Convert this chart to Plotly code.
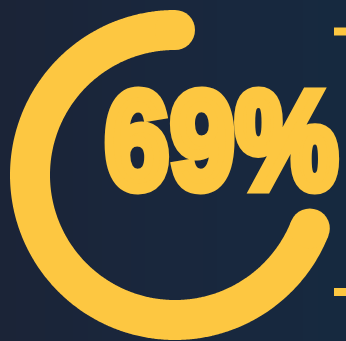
import numpy as np
import plotly.graph_objects as go

# Gauge value (percent of a full turn)
value = [69]
label = ["69%"]

W, H = 346, 341
cx, cy, radius = 175, 175, 145
ring_width = 40
yellow = "#FDC741"

# Heavy condensed look for the big number
squeeze = 0.83      # horizontal scale
outline = 11        # extra stroke weight (px)
tracking = 2        # letter spacing (px)

# Arc starts at 12 o'clock and sweeps counter-clockwise by value% of the circle
pct = value[0] / 100.0
theta = np.linspace(np.pi / 2, np.pi / 2 + 2 * np.pi * pct, 600)
ax = cx + radius * np.cos(theta)
ay = cy - radius * np.sin(theta)

fig = go.Figure()

# Soft horizontal background gradient
cols = np.arange(W)
fig.add_trace(go.Heatmap(
    z=[cols, cols], x=cols + 0.5, y=[0, H],
    colorscale=[[0, "#1b2437"], [0.5, "#19273d"], [1, "#16293f"]],
    showscale=False, hoverinfo="skip", zsmooth="best",
))

fig.add_trace(go.Scatter(
    x=ax, y=ay, mode="lines",
    line=dict(color=yellow, width=ring_width, simplify=False, shape="linear"),
    hoverinfo="skip", showlegend=False,
))
# Rounded caps at both ends of the arc
fig.add_trace(go.Scatter(
    x=[ax[0], ax[-1]], y=[ay[0], ay[-1]], mode="markers",
    marker=dict(color=yellow, size=ring_width, line=dict(width=0)),
    hoverinfo="skip", showlegend=False,
))

fig.add_annotation(
    x=103, y=140, xref="x", yref="y", text=label[0],
    showarrow=False, xanchor="left", yanchor="middle",
    font=dict(family="Liberation Sans, Arial, sans-serif",
              size=138, color=yellow, weight="bold"),
)

# Short marks at the right edge
for yy in (31.5, 292):
    fig.add_shape(type="line", x0=334, x1=W, y0=yy, y1=yy,
                  line=dict(color=yellow, width=8), layer="above")

fig.update_xaxes(range=[0, W], visible=False, fixedrange=True)
fig.update_yaxes(range=[H, 0], visible=False, fixedrange=True)
fig.update_layout(
    width=W, height=H, margin=dict(l=0, r=0, t=0, b=0),
    paper_bgcolor="#19263c", plot_bgcolor="#19263c",
    showlegend=False,
)

# Condense and embolden the big number, keeping its left edge in place
post = """
(function () {
  var S = %s, SW = %s, LS = %s, COL = '%s';
  function condense() {
    document.querySelectorAll('.annotation-text').forEach(function (t) {
      t.removeAttribute('transform');
      t.style.letterSpacing = '';
      t.style.stroke = '';
      t.style.strokeWidth = '';
      var b0 = t.getBBox();
      t.style.letterSpacing = LS + 'px';
      t.style.stroke = COL;
      t.style.strokeWidth = SW + 'px';
      t.style.strokeLinejoin = 'miter';
      t.style.strokeMiterlimit = '4';
      var b1 = t.getBBox();
      var tx = b0.x - S * b1.x;
      t.setAttribute('transform',
        'translate(' + tx + ',0) scale(' + S + ',1)');
    });
  }
  var gd = document.getElementById('{plot_id}');
  condense();
  if (gd && gd.on) { gd.on('plotly_afterplot', condense); }
})();
""" % (squeeze, outline, tracking, yellow)

fig.write_html("out.html", config={"displayModeBar": False}, post_script=post)
